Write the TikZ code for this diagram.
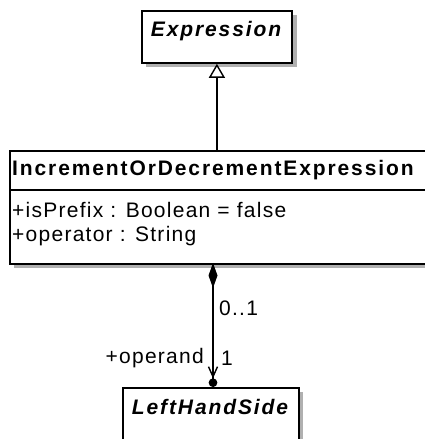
\documentclass[tikz,border=0pt]{standalone}
\usepackage{fontspec}
\setmainfont{Liberation Sans}[LetterSpace=6, BoldFeatures={LetterSpace=9}, BoldItalicFeatures={LetterSpace=9}]
\usetikzlibrary{arrows.meta}
\definecolor{shadowgray}{RGB}{176,176,176}
\begin{document}
\begin{tikzpicture}[x=1pt,y=1pt]
\tikzset{
  clsbox/.style={draw, line width=1.8pt, fill=white, inner sep=0pt, anchor=north west},
  shadowfill/.style={fill=shadowgray, draw=none},
  txt/.style={font=\fontsize{21}{25}\selectfont, inner sep=0pt},
  boldtxt/.style={font=\fontsize{21}{25}\selectfont\bfseries, inner sep=0pt},
  bitxt/.style={font=\fontsize{21}{25}\selectfont\bfseries\itshape, inner sep=0pt},
  conn/.style={line width=1.5pt},
}
\useasboundingbox (0,0) rectangle (424,439);
% shadows (drawn first, under the boxes)
\path[shadowfill] (146,372) rectangle (297,424);
\path[shadowfill] (14,171) rectangle (454,284);
\path[shadowfill] (127,-40) rectangle (303,47);
% Expression
\node[clsbox, minimum width=150pt, minimum height=52pt] (expr) at (141,429) {};
\node[bitxt] (exprname) at (216,408) {Expression};
% Main class
\node[clsbox, minimum width=440pt, minimum height=113pt] (main) at (9,289) {};
\coordinate (sepL) at (9,249);
\draw[line width=1.8pt] (sepL) -- (sepL -| main.east);
\node[boldtxt, anchor=west] (mainname) at (12,269) {IncrementOrDecrementExpression};
\node[txt, anchor=west] (attr1) at (12,229) {+isPrefix : Boolean = false};
\node[txt, anchor=west] (attr2) at (12,203) {+operator : String};
% LeftHandSide
\node[clsbox, minimum width=176pt, minimum height=80pt] (lhs) at (122,52) {};
\node[bitxt] (lhsname) at (210,32) {LeftHandSide};
% generalization
\draw[conn, -{Triangle[open, length=14pt, width=16pt, line width=1.4pt]}] (main.north -| expr.south) -- (expr.south);
% composition
\coordinate (compTop) at (213,176);
\coordinate (compBot) at (213,52);
\draw[conn, {Diamond[length=25pt, width=9pt]}-{Straight Barb[length=10pt, width=9pt, line width=1.4pt] Circle[length=8.6pt]}] (compTop) -- (compBot);
\node[txt, anchor=west] (mult1) at (219,131) {0..1};
\node[txt, anchor=west] (mult2) at (221,81) {1};
\node[txt, anchor=east] (role) at (204,81) {+operand};
\end{tikzpicture}
\end{document}
